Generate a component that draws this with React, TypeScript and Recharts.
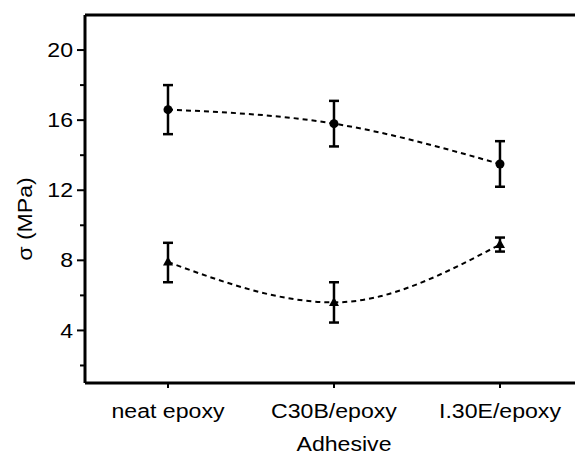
import { ErrorBar, Label, Line, LineChart, ReferenceLine, XAxis, YAxis } from "recharts";

const adhesives = ["neat epoxy", "C30B/epoxy", "I.30E/epoxy"];
const upperSeries = [16.6, 15.8, 13.5];
const upperErrors = [1.4, 1.3, 1.3];
const lowerSeries = [7.9, 5.6, 8.9];
const lowerErrors: Array<[number, number]> = [[1.15, 1.1], [1.15, 1.15], [0.4, 0.4]];
const yTicks = [2, 4, 6, 8, 10, 12, 14, 16, 18, 20];
const yLabels = [4, 8, 12, 16, 20];

const data = adhesives.map((name, i) => ({
  x: i,
  name,
  upper: upperSeries[i],
  upperErr: upperErrors[i],
  lower: lowerSeries[i],
  lowerErr: lowerErrors[i],
}));

const font = "'Liberation Sans', Arial, sans-serif";

// the source figure's text is a little wider than it is tall
function Txt({ x, y, anchor = "middle", rotate = 0, children }: any) {
  return (
    <text
      transform={`translate(${x} ${y}) rotate(${rotate}) scale(1.1 1)`}
      textAnchor={anchor}
      dominantBaseline="central"
      fontSize={21}
      fontFamily={font}
      fill="#000"
    >
      {children}
    </text>
  );
}

function YTick({ x, y, payload }: any) {
  const major = yLabels.includes(payload.value);
  return (
    <g>
      <line x1={x - (major ? 8 : 5)} x2={x} y1={y} y2={y} stroke="#000" strokeWidth={2} />
      {major && (
        <Txt x={x - 12} y={y} anchor="end">
          {payload.value}
        </Txt>
      )}
    </g>
  );
}

function XTick({ x, y, payload }: any) {
  return (
    <g>
      <line x1={x} x2={x} y1={y} y2={y + 5} stroke="#000" strokeWidth={2} />
      <Txt x={x} y={y + 28}>
        {adhesives[payload.value]}
      </Txt>
    </g>
  );
}

const circleDot = (p: any) => <circle key={`c${p.index}`} cx={p.cx} cy={p.cy} r={4.5} fill="#000" />;
const triangleDot = (p: any) => (
  <path key={`t${p.index}`} d={`M${p.cx},${p.cy - 5.5}L${p.cx + 5},${p.cy + 3.5}L${p.cx - 5},${p.cy + 3.5}Z`} fill="#000" />
);

export default function App() {
  return (
    <div style={{ position: "absolute", left: 0, top: 0, width: 575, height: 457, background: "#fff" }}>
      <LineChart width={575} height={457} data={data} margin={{ top: 15, right: 0, bottom: 0, left: 0 }}>
        <XAxis
          type="number"
          dataKey="x"
          domain={[-0.5, 2.452]}
          ticks={[0, 1, 2]}
          allowDataOverflow
          height={74}
          tickSize={0}
          tickMargin={0}
          tickLine={false}
          axisLine={{ stroke: "#000", strokeWidth: 3 }}
          tick={<XTick />}
        >
          <Label content={() => <Txt x={344} y={444}>Adhesive</Txt>} />
        </XAxis>
        <YAxis
          type="number"
          domain={[1, 22]}
          ticks={yTicks}
          allowDataOverflow
          width={85}
          tickSize={0}
          tickMargin={0}
          tickLine={false}
          axisLine={{ stroke: "#000", strokeWidth: 3 }}
          tick={<YTick />}
        >
          <Label content={() => <Txt x={25} y={219} rotate={-90}>σ (MPa)</Txt>} />
        </YAxis>
        <ReferenceLine y={22} stroke="#000" strokeWidth={3} />
        <Line
          type="monotone"
          dataKey="upper"
          stroke="#000"
          strokeWidth={2}
          strokeDasharray="5 4"
          dot={circleDot}
          activeDot={false}
          isAnimationActive={false}
        >
          <ErrorBar dataKey="upperErr" direction="y" width={5} stroke="#000" strokeWidth={2.5} isAnimationActive={false} />
        </Line>
        <Line
          type="monotone"
          dataKey="lower"
          stroke="#000"
          strokeWidth={2}
          strokeDasharray="5 4"
          dot={triangleDot}
          activeDot={false}
          isAnimationActive={false}
        >
          <ErrorBar dataKey="lowerErr" direction="y" width={5} stroke="#000" strokeWidth={2.5} isAnimationActive={false} />
        </Line>
      </LineChart>
    </div>
  );
}
